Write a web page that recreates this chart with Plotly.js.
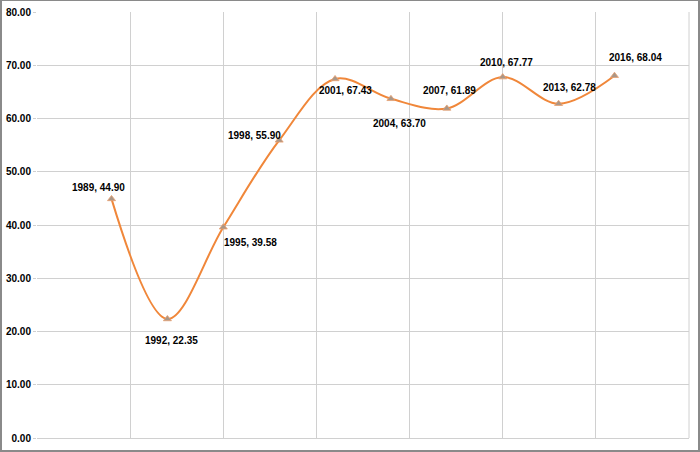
<!DOCTYPE html>
<html>
<head>
<meta charset="utf-8">
<script src="https://cdn.plot.ly/plotly-3.0.1.min.js"></script>
<style>
  html, body { margin: 0; padding: 0; background: #fff; }
  #frame { width: 700px; height: 452px; box-sizing: border-box; border: 2px solid #8a8a8a; border-top-width: 1px; background: #fff; }
  #chart { width: 696px; height: 449px; }
</style>
</head>
<body>
<div id="frame"><div id="chart"></div></div>
<script>
const years = [1989, 1992, 1995, 1998, 2001, 2004, 2007, 2010, 2013, 2016];
const values = [44.90, 22.35, 39.58, 55.90, 67.43, 63.70, 61.89, 67.77, 62.78, 68.04];
const yTicks = [0, 10, 20, 30, 40, 50, 60, 70, 80];

// label offsets (pixels) relative to each point: [xshift, yshift]
const labelOffsets = [[-13, 11], [4, -22], [27, -15], [-25, 5], [10, -12], [9, -25], [3, 18], [4, 15], [11, 16], [21, 18]];

const labelFont = { family: '"Liberation Sans Narrow", "Arial Narrow", "Liberation Sans", Arial, sans-serif', size: 10, color: '#000', weight: 'bold' };

const annotations = years.map((yr, i) => ({
  x: yr, y: values[i], xref: 'x', yref: 'y',
  text: '<b>' + yr + ', ' + values[i].toFixed(2) + '</b>',
  showarrow: false,
  xshift: labelOffsets[i][0], yshift: labelOffsets[i][1],
  font: labelFont
}));

const trace = {
  x: years, y: values, type: 'scatter', mode: 'lines+markers',
  line: { color: '#f0873a', width: 2, shape: 'spline', smoothing: 1 },
  marker: { symbol: 'triangle-up', size: 7, color: '#a99788', line: { color: '#e8a070', width: 0.8 } },
  hoverinfo: 'skip'
};

const layout = {
  width: 696, height: 449,
  margin: { l: 35, r: 9, t: 11, b: 12, pad: 0 },
  paper_bgcolor: '#fff', plot_bgcolor: '#fff',
  showlegend: false,
  xaxis: {
    range: [1985, 2020], tick0: 1985, dtick: 5,
    showgrid: true, gridcolor: '#d0d0d0', gridwidth: 1,
    showticklabels: false, zeroline: false, showline: true, linecolor: '#d0d0d0', linewidth: 1,
    ticks: ''
  },
  yaxis: {
    range: [0, 80], tickvals: yTicks, ticktext: yTicks.map(v => '<b>' + v.toFixed(2) + '</b>'),
    showgrid: true, gridcolor: '#d0d0d0', gridwidth: 1,
    zeroline: false, showline: false,
    ticks: 'outside', ticklen: 3, tickcolor: '#d0d0d0',
    tickfont: labelFont
  },
  shapes: [
    { type: 'line', xref: 'paper', yref: 'paper', x0: 1, x1: 1, y0: 0, y1: 1, line: { color: '#d0d0d0', width: 1 } }
  ],
  annotations: annotations
};

Plotly.newPlot('chart', [trace], layout, { staticPlot: true, displayModeBar: false });
</script>
</body>
</html>
